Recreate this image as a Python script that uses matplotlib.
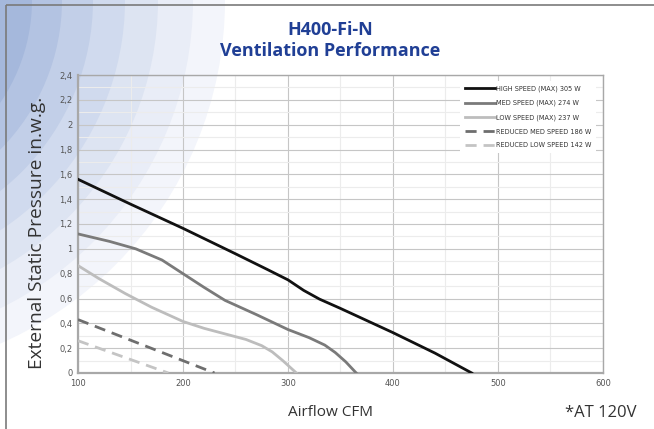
import matplotlib.pyplot as plt
from matplotlib.patches import Circle, Rectangle

# Data
high_x = [100, 150, 200, 250, 280, 300, 315, 330, 350, 400, 440, 475]
high_y = [1.56, 1.36, 1.165, 0.96, 0.835, 0.75, 0.665, 0.595, 0.52, 0.325, 0.16, 0]

med_x = [100, 130, 155, 180, 200, 220, 240, 270, 300, 320, 335, 345, 355, 365]
med_y = [1.12, 1.06, 1.0, 0.91, 0.80, 0.69, 0.585, 0.47, 0.35, 0.285, 0.225, 0.165, 0.09, 0]

low_x = [100, 120, 145, 170, 200, 220, 240, 260, 275, 285, 295, 308]
low_y = [0.865, 0.76, 0.64, 0.53, 0.415, 0.36, 0.315, 0.27, 0.22, 0.17, 0.1, 0]

red_med_x = [100, 230]
red_med_y = [0.43, 0]

red_low_x = [100, 186]
red_low_y = [0.26, 0]

labels = ['HIGH SPEED (MAX) 305 W', 'MED SPEED (MAX) 274 W', 'LOW SPEED (MAX) 237 W',
          'REDUCED MED SPEED 186 W', 'REDUCED LOW SPEED 142 W']

x_ticks = [100, 200, 300, 400, 500, 600]
y_ticks = [0, 0.2, 0.4, 0.6, 0.8, 1.0, 1.2, 1.4, 1.6, 1.8, 2.0, 2.2, 2.4]
y_tick_labels = ['0', '0,2', '0,4', '0,6', '0,8', '1', '1,2', '1,4', '1,6', '1,8', '2', '2,2', '2,4']

W, H = 654, 429
fig = plt.figure(figsize=(W / 100, H / 100), dpi=100)

# decorative background: concentric blue bands from the top-left
bg = fig.add_axes([0, 0, 1, 1])
bg.set_xlim(0, W)
bg.set_ylim(H, 0)
bg.axis('off')
band_colors = ['#ffffff', '#f3f5fb', '#e9edf7', '#dde4f2', '#d0daee', '#c2cfe8', '#b3c3e2', '#a5b8dc']
band_radii = [10000, 375, 343, 308, 275, 243, 212, 182]
for r, c in zip(band_radii, band_colors):
    bg.add_patch(Circle((-150, 0), r, facecolor=c, edgecolor='none'))
bg.add_patch(Rectangle((6, 5), W, H, facecolor='none', edgecolor='#7a7a7a', lw=1.2))

ax = fig.add_axes([78 / W, 1 - 373 / H, (603 - 78) / W, (373 - 75) / H])
ax.patch.set_alpha(0)

ax.plot(high_x, high_y, color='#111111', lw=2.0, label=labels[0], zorder=5)
ax.plot(med_x, med_y, color='#7a7a7a', lw=2.0, label=labels[1], zorder=5)
ax.plot(low_x, low_y, color='#bdbdbd', lw=2.0, label=labels[2], zorder=5)
ax.plot(red_med_x, red_med_y, color='#6e6e6e', lw=2.0, ls=(0, (4, 2.5)), label=labels[3], zorder=5)
ax.plot(red_low_x, red_low_y, color='#c4c4c4', lw=2.0, ls=(0, (4, 2.5)), label=labels[4], zorder=5)

ax.set_xlim(100, 600)
ax.set_ylim(0, 2.4)
ax.set_xticks(x_ticks)
ax.set_xticklabels([str(v) for v in x_ticks])
ax.set_yticks(y_ticks)
ax.set_yticklabels(y_tick_labels)
ax.set_xticks([150, 250, 350, 450, 550], minor=True)
ax.set_yticks([v + 0.1 for v in y_ticks[:-1]], minor=True)
ax.grid(which='major', color='#c6c6c6', lw=0.8)
ax.grid(which='minor', color='#ececec', lw=0.8)
ax.set_axisbelow(True)
ax.tick_params(which='both', length=0, labelsize=6, colors='#555555', pad=4)
for s in ax.spines.values():
    s.set_color('#a8a8a8')
    s.set_linewidth(1.0)
ax.spines['left'].set_linewidth(1.6)
ax.spines['bottom'].set_linewidth(1.6)

leg = ax.legend(loc='upper left', bbox_to_anchor=(460 / W, 1 - 81 / H), bbox_transform=fig.transFigure,
                fontsize=4.7, handlelength=4.6, handletextpad=0.2, labelspacing=1.2,
                frameon=True, fancybox=False, borderpad=0.7, borderaxespad=0)
leg.get_frame().set_facecolor('white')
leg.get_frame().set_edgecolor('none')
leg.get_frame().set_alpha(1)
for t in leg.get_texts():
    t.set_color('#333333')

title_font = ['Open Sans', 'DejaVu Sans']
fig.text(330 / W, 1 - 30 / H, 'H400-Fi-N', ha='center', va='center', fontsize=13,
         fontweight='bold', color='#203f95', family=title_font)
fig.text(330 / W, 1 - 51 / H, 'Ventilation Performance', ha='center', va='center', fontsize=13,
         fontweight='bold', color='#203f95', family=title_font)
fig.text(37 / W, 1 - 233 / H, 'External Static Pressure in.w.g.', ha='center', va='center',
         rotation=90, fontsize=13.8, color='#333333', family=title_font)
fig.text(331 / W, 1 - 412 / H, 'Airflow CFM', ha='center', va='center', fontsize=11,
         color='#333333', family=title_font)
fig.text(601 / W, 1 - 413 / H, '*AT 120V', ha='center', va='center', fontsize=12,
         color='#333333', family=title_font)

fig.savefig('out.png', dpi=100)
